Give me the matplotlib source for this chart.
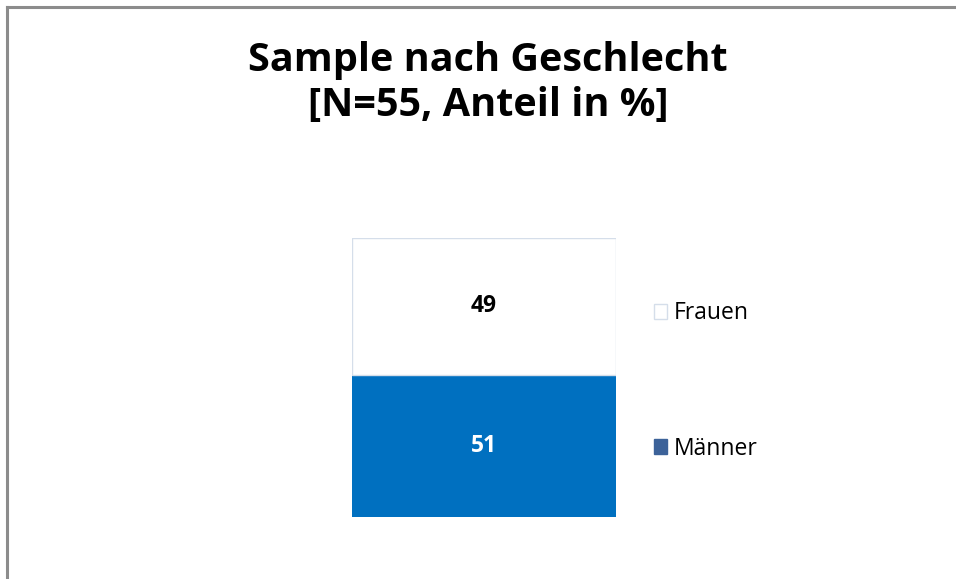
import numpy as np
import matplotlib
matplotlib.use('Agg')
import matplotlib.pyplot as plt
from matplotlib.patches import Patch
from matplotlib.lines import Line2D

plt.rcParams["font.family"] = ["Open Sans", "DejaVu Sans"]

# Data
categories = ["Männer", "Frauen"]
values = [51, 49]
barColors = ["#0070C0", "#FFFFFF"]
edgeColors = ["#0070C0", "#D5DEEA"]
legendColors = ["#3C6299", "#FFFFFF"]
labelColors = ["white", "black"]
title = "Sample nach Geschlecht\n[N=55, Anteil in %]"

fig = plt.figure(figsize=(9.56, 5.79), dpi=100)

# Frame of the chart area (left and top only)
fig.add_artist(Line2D([6.5/956, 6.5/956], [0, 1-6.5/579], color="#8C8C8C", linewidth=2.2))
fig.add_artist(Line2D([6.5/956, 1], [1-6.5/579, 1-6.5/579], color="#8C8C8C", linewidth=2.2))

ax0 = fig.add_axes([352/956, 62/579, 264/956, 279/579])

bottom = 0
for cat, val, fc, ec, lc in zip(categories, values, barColors, edgeColors, labelColors):
    ax0.bar(0, val, bottom=bottom, width=1.0, color=fc, edgecolor=ec, linewidth=1.0)
    ax0.text(0, bottom + val/2, str(val), ha="center", va="center",
             fontsize=16.5, fontweight="bold", color=lc)
    bottom += val

ax0.set_xlim(-0.5, 0.5)
ax0.set_ylim(0, 100)
ax0.axis("off")

fig.text(488/956, 1-83/579, title, ha="center", va="center",
         fontsize=28.5, fontweight="bold", linespacing=1.23)

# Legend (Frauen on top)
handles = [Patch(facecolor=legendColors[1], edgecolor="#D5DEEA", linewidth=1.0),
           Patch(facecolor=legendColors[0], edgecolor=legendColors[0])]
fig.legend(handles, [categories[1], categories[0]],
           loc="center left", bbox_to_anchor=(633/956, 1-381/579),
           frameon=False, fontsize=16.5, handlelength=0.6, handleheight=0.6,
           handletextpad=0.3, labelspacing=4.86)

plt.savefig("out.png", dpi=100)
plt.close()
